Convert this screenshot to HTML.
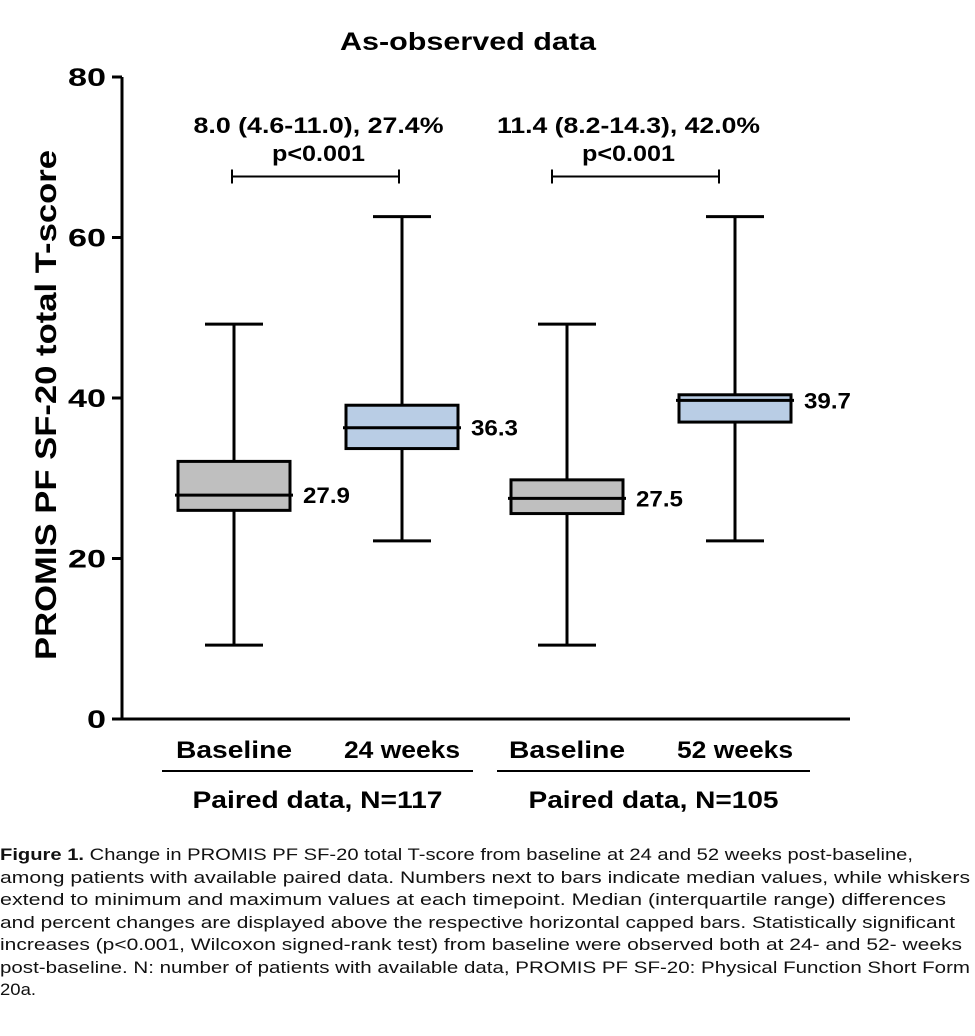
<!DOCTYPE html>
<html><head><meta charset="utf-8">
<style>
body{margin:0;background:#fff;width:975px;height:1036px;overflow:hidden;font-family:"Liberation Sans",sans-serif;}
#cap{position:absolute;left:0;top:844px;width:975px;font-size:16.6px;line-height:22.5px;color:#111;white-space:nowrap;}
#cap span{display:inline-block;transform-origin:0 50%;}
</style></head><body>
<svg id="chart" width="975" height="840" style="position:absolute;left:0;top:0" font-family="Liberation Sans, sans-serif" font-weight="bold"></svg>
<div id="cap"><span data-w="913"><b>Figure 1.</b> Change in PROMIS PF SF-20 total T-score from baseline at 24 and 52 weeks post-baseline,</span><br><span data-w="970">among patients with available paired data. Numbers next to bars indicate median values, while whiskers</span><br><span data-w="946">extend to minimum and maximum values at each timepoint. Median (interquartile range) differences</span><br><span data-w="955">and percent changes are displayed above the respective horizontal capped bars. Statistically significant</span><br><span data-w="962">increases (p&lt;0.001, Wilcoxon signed-rank test) from baseline were observed both at 24- and 52- weeks</span><br><span data-w="970">post-baseline. N: number of patients with available data, PROMIS PF SF-20: Physical Function Short Form</span><br><span data-w="36">20a.</span></div>
<script>
document.querySelectorAll('#cap span').forEach(s=>{const w=s.getBoundingClientRect().width;s.style.transform='scaleX('+(+s.dataset.w/w)+')';});

const categories=["Baseline","24 weeks","Baseline","52 weeks"];
const mins=[9.2,22.2,9.2,22.2];
const q1s=[26.0,33.7,25.6,37.0];
const medians=[27.9,36.3,27.5,39.7];
const q3s=[32.1,39.1,29.8,40.4];
const maxs=[49.2,62.6,49.2,62.6];
const medianLabels=["27.9","36.3","27.5","39.7"];
const yTicks=[0,20,40,60,80];
const groupLabels=["Paired data, N=117","Paired data, N=105"];
const compLine1=["8.0 (4.6-11.0), 27.4%","11.4 (8.2-14.3), 42.0%"];
const compLine2=["p<0.001","p<0.001"];
const compY=[67.6,67.6];

const svg=document.getElementById('chart');
const NS='http://www.w3.org/2000/svg';
const y=v=>719-v*(642/80);
const cx=i=>[234,402,567,735][i];
const BW=112, CW=58;
function mk(t,a,p){const e=document.createElementNS(NS,t);for(const k in a)e.setAttribute(k,a[k]);(p||svg).appendChild(e);return e;}
function ln(x1,y1,x2,y2,w){return mk('line',{x1,y1,x2,y2,stroke:'#000','stroke-width':w||3});}
function tx(x,yy,s,size,anchor,w){const a={x,y:yy,'font-size':size,'text-anchor':anchor||'middle',fill:'#000'};if(w){a.textLength=w;a.lengthAdjust='spacingAndGlyphs';}const e=mk('text',a);e.textContent=s;return e;}

let t=tx(468,50,"As-observed data",25,'middle',256);

t=tx(0,0,"PROMIS PF SF-20 total T-score",30,'middle',510);
t.setAttribute('transform','translate(56,405) rotate(-90)');


let a=ln(122,y(80),122,y(0),3);
a=ln(122,y(0),850,y(0),3);
yTicks.forEach(v=>{
  const l=ln(112,y(v),122,y(v),3);
  
  const s=String(v);
  const e=tx(106,y(v)+9,s,25,'end',s.length*19);
  
});

categories.forEach((c,i)=>{
  const x=cx(i);
  const g=mk('g',{});
  
  
  mk('line',{x1:x,y1:y(maxs[i]),x2:x,y2:y(mins[i]),stroke:'#000','stroke-width':3},g);
  mk('line',{x1:x-CW/2,y1:y(maxs[i]),x2:x+CW/2,y2:y(maxs[i]),stroke:'#000','stroke-width':3},g);
  mk('line',{x1:x-CW/2,y1:y(mins[i]),x2:x+CW/2,y2:y(mins[i]),stroke:'#000','stroke-width':3},g);
  mk('rect',{x:x-BW/2,y:y(q3s[i]),width:BW,height:y(q1s[i])-y(q3s[i]),fill:i%2?'#b9cde5':'#bfbfbf',stroke:'#000','stroke-width':3},g);
  mk('line',{x1:x-BW/2-3,y1:y(medians[i]),x2:x+BW/2+3,y2:y(medians[i]),stroke:'#000','stroke-width':3},g);
  const m=tx(x+BW/2+13,y(medians[i])+8,medianLabels[i],22,'start',47);
  
  const xl=tx(x,758,c,24,'middle',c.length>8?127:116);
  
});

const brStart=[232,552], brEnd=[399,719];
const ulStart=[162,497], ulEnd=[473,810];
[0,1].forEach(k=>{
  const mid=(ulStart[k]+ulEnd[k])/2;
  const gl=ln(ulStart[k],771,ulEnd[k],771,2);
  
  const gt=tx(mid,808,groupLabels[k],24,'middle',250);
  
  const yy=y(compY[k]);
  const b=ln(brStart[k],yy,brEnd[k],yy,2);
  
  ln(brStart[k],yy-7,brStart[k],yy+7,2);ln(brEnd[k],yy-7,brEnd[k],yy+7,2);
  const cm=(brStart[k]+brEnd[k])/2+ (k?-7:3);
  const c1=tx(cm,133,compLine1[k],22,'middle',k?263:250);
  
  const c2=tx(cm,161,compLine2[k],22,'middle',93);
  
});
</script>
</body></html>
